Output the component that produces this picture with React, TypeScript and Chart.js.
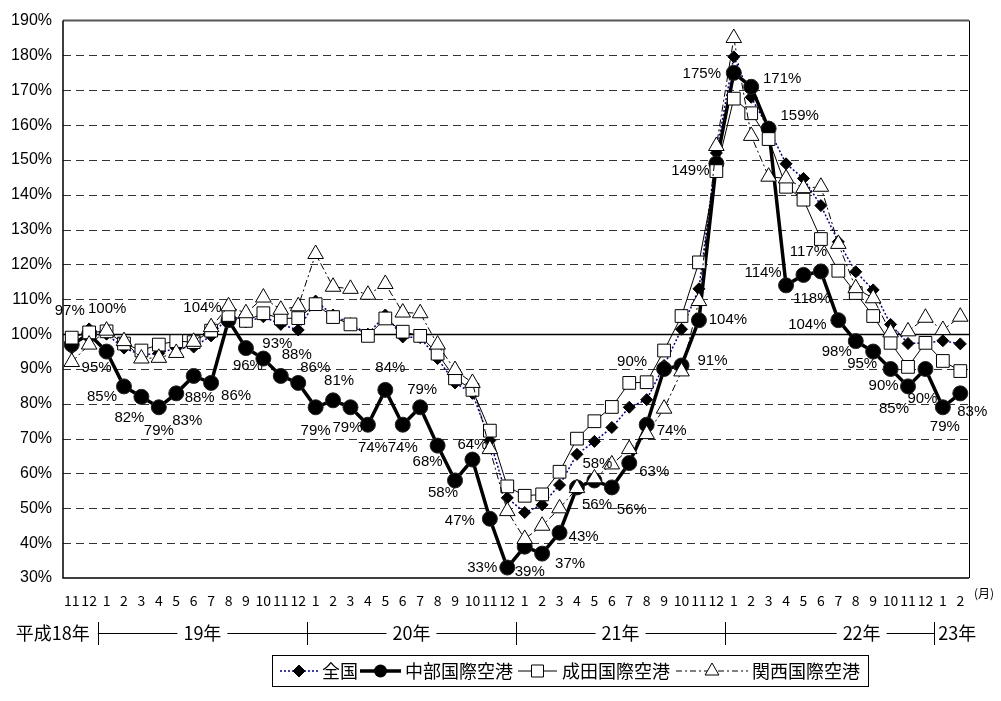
import { useEffect, useRef } from 'react';
import { Chart, registerables } from 'chart.js';
Chart.register(...registerables);

// ---- data ----
const monthLabels = [
  '11', '12',
  '1', '2', '3', '4', '5', '6', '7', '8', '9', '10', '11', '12',
  '1', '2', '3', '4', '5', '6', '7', '8', '9', '10', '11', '12',
  '1', '2', '3', '4', '5', '6', '7', '8', '9', '10', '11', '12',
  '1', '2', '3', '4', '5', '6', '7', '8', '9', '10', '11', '12',
  '1', '2',
];
const yearLabels = ['平成18年', '19年', '20年', '21年', '22年', '23年'];
const yearStartIndex = [2, 14, 26, 38, 50];
const seriesNames = ['全国', '中部国際空港', '成田国際空港', '関西国際空港'];

const zenkoku = [96, 101.5, 100, 96, 94, 94.5, 96, 96.3, 99.5, 105, 103.5, 105, 102.8, 101.2, 109.5, 105.5, 103, 100, 105.5, 99.2, 99, 93, 86, 83, 69.5, 53, 48.8, 51, 56.7, 65.5, 69.2, 73.2, 79, 81.2, 91, 101.4, 113, 152, 179.6, 168, 159, 148.9, 144.7, 136.9, 126.5, 117.9, 112.7, 102.8, 97.3, 97.5, 98.1, 97.2];
const chubu = [97, 100, 95, 85, 82, 79, 83, 88, 86, 104, 96, 93, 88, 86, 79, 81, 79, 74, 84, 74, 79, 68, 58, 64, 47, 33, 39, 37, 43, 56, 58, 56, 63, 74, 90, 91, 104, 149, 175, 171, 159, 114, 117, 118, 104, 98, 95, 90, 85, 90, 79, 83];
const narita = [99, 100.5, 100.8, 97.3, 95.3, 97, 98, 97.7, 101, 105.5, 103.8, 106, 104.5, 104.6, 108.6, 104.9, 102.8, 99.5, 104.5, 100.7, 99.5, 94.4, 87.3, 84, 72.3, 56.3, 53.6, 54, 60.5, 70, 75, 79.1, 86, 86.2, 95.3, 105.2, 120.6, 146.8, 167.6, 163.4, 156, 142.3, 138.6, 127.3, 118.2, 111.8, 105.2, 97.5, 90.6, 97.5, 92.3, 89.4];
const kansai = [92, 97, 101, 98, 93, 93.2, 94.6, 97.8, 102, 108, 106, 110.5, 107, 108, 123, 113.6, 113, 111.3, 114.4, 106.2, 106, 97, 89.7, 86, 67, 49.2, 41.2, 45, 50, 55.8, 58.6, 62.6, 67, 71.3, 78.6, 89.3, 109.5, 154, 185, 156.9, 145.2, 144.7, 141.9, 142.3, 125.9, 113.2, 110.3, 100.5, 100.8, 104.7, 101.2, 105];

const yMin = 30;
const yMax = 190;
const yStep = 10;

// label placement (text offset from point, px) for 中部 data labels
const labelOffsets: [number, number][] = [
  [-2, -34], [18, -25], [-10, 16], [-22, 10], [-12, 21], [0, 24], [11, 27], [6, 22], [25, 13], [-26, -12],
  [2, 18], [14, -15], [16, -21], [17, -15], [0, 24], [6, -19], [-3, 21], [5, 23], [5, -22], [0, 23],
  [2, -17], [-10, 16], [-12, 12], [0, -15], [-30, 2], [-25, 0], [5, 25], [28, 10], [24, 4], [20, 17],
  [3, -17], [20, 22], [25, 9], [25, 6], [-32, -7], [31, -5], [29, 0], [-26, 7], [-32, 1], [31, -8],
  [31, -13], [-23, -13], [5, -23], [-9, 27], [-31, 5], [-19, 11], [-11, 12], [-7, 17], [-14, 22], [-3, 30],
  [2, 20], [12, 18],
];
// year label centre shift (px) relative to the middle of its span
const yearLabelShift = [0, 0, 0, 0, 32, 0];

const NUM_FONT = '"Liberation Sans", Arial, sans-serif';
const JP_FONT = '"Noto Sans CJK JP", "Noto Sans", sans-serif';

function drawMarker(ctx: CanvasRenderingContext2D, kind: string, x: number, y: number) {
  ctx.save();
  ctx.setLineDash([]);
  ctx.lineWidth = 1;
  ctx.strokeStyle = '#000';
  ctx.beginPath();
  if (kind === 'diamond') {
    const r = 6;
    ctx.moveTo(x, y - r); ctx.lineTo(x + r, y); ctx.lineTo(x, y + r); ctx.lineTo(x - r, y); ctx.closePath();
    ctx.fillStyle = '#000'; ctx.fill(); ctx.stroke();
  } else if (kind === 'circle') {
    ctx.arc(x, y, 6.5, 0, Math.PI * 2);
    ctx.fillStyle = '#000'; ctx.fill();
  } else if (kind === 'square') {
    const s = 6;
    ctx.rect(x - s, y - s, 2 * s, 2 * s);
    ctx.fillStyle = '#fff'; ctx.fill(); ctx.stroke();
  } else {
    const r = 8;
    ctx.moveTo(x, y - r);
    ctx.lineTo(x + r * 0.866, y + r * 0.5);
    ctx.lineTo(x - r * 0.866, y + r * 0.5);
    ctx.closePath();
    ctx.fillStyle = '#fff'; ctx.fill(); ctx.stroke();
  }
  ctx.restore();
}

const customPlugin = {
  id: 'custom',
  beforeDatasetsDraw(chart: any) {
    const { ctx, chartArea } = chart;
    const y = chart.scales.y;
    const { left, right, top, bottom } = chartArea;
    ctx.save();
    for (let v = yMin + yStep; v < yMax; v += yStep) {
      const py = Math.round(y.getPixelForValue(v)) + 0.5;
      ctx.beginPath();
      if (v === 100) {
        ctx.setLineDash([]);
        ctx.strokeStyle = '#000';
        ctx.lineWidth = 1.5;
      } else {
        ctx.setLineDash([8, 5]);
        ctx.strokeStyle = '#333';
        ctx.lineWidth = 1;
      }
      ctx.moveTo(left, py);
      ctx.lineTo(right, py);
      ctx.stroke();
    }
    ctx.setLineDash([]);
    ctx.strokeStyle = '#555';
    ctx.lineWidth = 2;
    ctx.beginPath();
    ctx.moveTo(left, top);
    ctx.lineTo(right, top);
    ctx.stroke();
    ctx.strokeStyle = '#000';
    ctx.lineWidth = 1.5;
    ctx.beginPath();
    ctx.moveTo(left, top);
    ctx.lineTo(left, bottom);
    ctx.lineTo(right, bottom);
    ctx.stroke();
    ctx.lineWidth = 1;
    ctx.beginPath();
    ctx.moveTo(right + 0.5, top);
    ctx.lineTo(right + 0.5, bottom);
    ctx.stroke();
    ctx.restore();
  },
  afterDraw(chart: any) {
    const { ctx, chartArea } = chart;
    const xs = chart.scales.x;
    ctx.save();
    // data labels for 中部
    const meta = chart.getDatasetMeta(1);
    ctx.font = `15px ${NUM_FONT}`;
    ctx.fillStyle = '#000';
    ctx.textAlign = 'center';
    ctx.textBaseline = 'middle';
    meta.data.forEach((pt: any, i: number) => {
      const [dx, dy] = labelOffsets[i] || [0, -15];
      ctx.fillText(`${Math.round(chubu[i])}%`, pt.x + dx, pt.y + dy);
    });

    // month tick labels
    ctx.font = `14px ${JP_FONT}`;
    ctx.textBaseline = 'middle';
    monthLabels.forEach((m, i) => {
      ctx.fillText(m, xs.getPixelForValue(i), 601);
    });
    ctx.font = `12px ${JP_FONT}`;
    ctx.textAlign = 'left';
    ctx.fillText('(月)', chartArea.right + 5, 593);

    // year row
    const rowY = 633;
    const bounds = yearStartIndex.map((i) => (xs.getPixelForValue(i - 1) + xs.getPixelForValue(i)) / 2);
    ctx.strokeStyle = '#000';
    ctx.lineWidth = 1;
    ctx.beginPath();
    ctx.moveTo(bounds[0], rowY + 0.5);
    ctx.lineTo(bounds[bounds.length - 1], rowY + 0.5);
    ctx.stroke();
    bounds.forEach((bx) => {
      const px = Math.round(bx) + 0.5;
      ctx.beginPath();
      ctx.moveTo(px, rowY - 11);
      ctx.lineTo(px, rowY + 12);
      ctx.stroke();
    });
    ctx.font = `18px ${JP_FONT}`;
    ctx.textBaseline = 'middle';
    ctx.textAlign = 'right';
    ctx.fillText(yearLabels[0], bounds[0] - 8, rowY);
    ctx.textAlign = 'center';
    for (let k = 1; k < yearLabels.length - 1; k++) {
      const cx = (bounds[k - 1] + bounds[k]) / 2 + yearLabelShift[k];
      const w = ctx.measureText(yearLabels[k]).width;
      ctx.fillStyle = '#fff';
      ctx.fillRect(cx - w / 2 - 6, rowY - 5, w + 12, 10);
      ctx.fillStyle = '#000';
      ctx.fillText(yearLabels[k], cx, rowY);
    }
    ctx.textAlign = 'left';
    ctx.fillText(yearLabels[yearLabels.length - 1], bounds[bounds.length - 1] + 4, rowY);

    // legend
    const lx0 = 272, lx1 = 868, ly0 = 655, ly1 = 686;
    ctx.strokeStyle = '#000';
    ctx.lineWidth = 1;
    ctx.strokeRect(lx0 + 0.5, ly0 + 0.5, lx1 - lx0, ly1 - ly0);
    const ly = (ly0 + ly1) / 2 + 0.5;
    const items = [
      { name: seriesNames[0], x: 280, w: 38, tx: 322, kind: 'diamond', color: '#000080', dash: [2, 2], lw: 1.5 },
      { name: seriesNames[1], x: 360, w: 41, tx: 405, kind: 'circle', color: '#000', dash: [], lw: 3.5 },
      { name: seriesNames[2], x: 518, w: 39, tx: 562, kind: 'square', color: '#000', dash: [], lw: 1 },
      { name: seriesNames[3], x: 676, w: 72, tx: 752, kind: 'triangle', color: '#000', dash: [6, 3, 2, 3], lw: 1 },
    ];
    ctx.font = `18px ${JP_FONT}`;
    ctx.textAlign = 'left';
    ctx.textBaseline = 'middle';
    items.forEach((it) => {
      ctx.save();
      ctx.strokeStyle = it.color;
      ctx.lineWidth = it.lw;
      ctx.setLineDash(it.dash);
      ctx.beginPath();
      ctx.moveTo(it.x, ly);
      ctx.lineTo(it.x + it.w, ly);
      ctx.stroke();
      ctx.restore();
      drawMarker(ctx, it.kind, it.x + it.w / 2, ly);
      ctx.fillStyle = '#000';
      ctx.fillText(it.name, it.tx, ly);
    });
    ctx.restore();
  },
};

export default function App() {
  const canvasRef = useRef<HTMLCanvasElement | null>(null);

  useEffect(() => {
    const canvas = canvasRef.current;
    if (!canvas) return;
    const chart = new Chart(canvas, {
      type: 'line',
      data: {
        labels: monthLabels,
        datasets: [
          {
            label: seriesNames[0],
            data: zenkoku,
            order: 4,
            borderColor: '#000080',
            borderWidth: 1.5,
            borderDash: [2, 2],
            pointStyle: 'rectRot',
            pointRadius: 6,
            pointBackgroundColor: '#000',
            pointBorderColor: '#000',
            pointBorderWidth: 1,
            tension: 0,
          },
          {
            label: seriesNames[1],
            data: chubu,
            order: 3,
            borderColor: '#000',
            borderWidth: 3.5,
            pointStyle: 'circle',
            pointRadius: 7.5,
            pointBackgroundColor: '#000',
            pointBorderColor: '#222',
            pointBorderWidth: 1,
            tension: 0,
          },
          {
            label: seriesNames[2],
            data: narita,
            order: 2,
            borderColor: '#000',
            borderWidth: 1,
            pointStyle: 'rect',
            pointRadius: 9,
            pointBackgroundColor: '#fff',
            pointBorderColor: '#000',
            pointBorderWidth: 1,
            tension: 0,
          },
          {
            label: seriesNames[3],
            data: kansai,
            order: 1,
            borderColor: '#000',
            borderWidth: 1,
            borderDash: [7, 3, 2, 3],
            pointStyle: 'triangle',
            pointRadius: 9,
            pointBackgroundColor: '#fff',
            pointBorderColor: '#000',
            pointBorderWidth: 1,
            tension: 0,
          },
        ],
      },
      options: {
        animation: false,
        responsive: false,
        devicePixelRatio: 1,
        layout: { padding: { left: 0, right: 32, top: 11, bottom: 123 } },
        plugins: {
          legend: { display: false },
          tooltip: { enabled: false },
        },
        scales: {
          x: {
            type: 'category',
            offset: true,
            grid: { display: false, drawTicks: false },
            border: { display: false },
            ticks: { display: false },
            afterFit: (s: any) => { s.height = 0; },
          },
          y: {
            min: yMin,
            max: yMax,
            grid: { display: false, drawTicks: false },
            border: { display: false },
            ticks: {
              stepSize: yStep,
              padding: 11,
              color: '#000',
              font: { size: 16, family: NUM_FONT },
              callback: (v: any) => `${v}%`,
            },
            afterFit: (s: any) => { s.width = 63; },
          },
        },
      },
      plugins: [customPlugin],
    });
    return () => chart.destroy();
  }, []);

  return (
    <div style={{ position: 'absolute', left: 0, top: 0, width: 1001, height: 701, background: '#fff' }}>
      <canvas ref={canvasRef} width={1001} height={701} style={{ display: 'block' }} />
    </div>
  );
}
